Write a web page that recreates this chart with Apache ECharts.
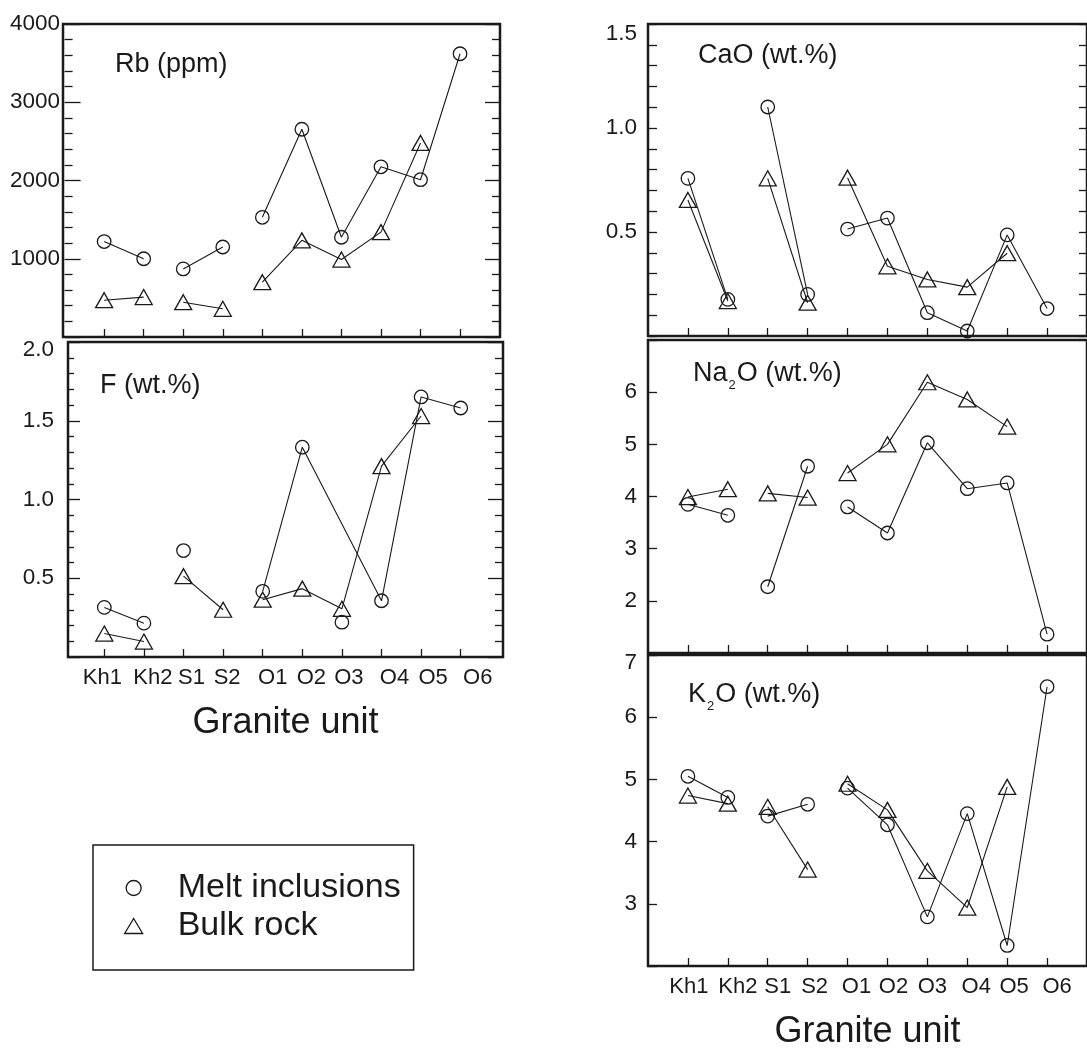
<!DOCTYPE html>
<html><head><meta charset="utf-8">
<script src="https://cdn.jsdelivr.net/npm/echarts@6/dist/echarts.min.js"></script>
<style>html,body{margin:0;padding:0;background:#fff}#c{width:1087px;height:1051px}</style>
</head><body><div id="c"></div>
<script>
// ---------- data ----------
const categories = ['Kh1','Kh2','S1','S2','O1','O2','O3','O4','O5','O6'];
const xTitle = 'Granite unit';
const seriesNames = ['Melt inclusions', 'Bulk rock'];

const rbMelt   = [1220, 1000, 870, 1150, 1530, 2655, 1275, 2175, 2010, 3620];
const rbBulk   = [470, 510, 445, 360, 700, 1235, 990, 1340, 2480, null];
const fMelt    = [0.315, 0.215, 0.676, null, 0.417, 1.332, 0.221, 0.357, 1.651, 1.581];
const fBulk    = [0.149, 0.098, 0.513, 0.300, 0.364, 0.434, 0.306, 1.212, 1.530, null];
const caoMelt  = [0.758, 0.176, 1.101, 0.200, 0.514, 0.567, 0.112, 0.024, 0.486, 0.132];
const caoBulk  = [0.654, 0.168, 0.758, 0.160, 0.761, 0.335, 0.272, 0.235, 0.398, null];
const na2oMelt = [3.85, 3.64, 2.27, 4.58, 3.80, 3.30, 5.03, 4.15, 4.26, 1.36];
const na2oBulk = [3.99, 4.14, 4.06, 3.98, 4.45, 5.00, 6.19, 5.86, 5.34, null];
const k2oMelt  = [5.05, 4.71, 4.41, 4.60, 4.86, 4.27, 2.79, 4.45, 2.33, 6.49];
const k2oBulk  = [4.74, 4.61, 4.56, 3.55, 4.93, 4.51, 3.53, 2.94, 4.88, null];

// which points are joined by lines (indices into the arrays above)
const rbMeltChains = [[0,1],[2,3],[4,5,6,7,8,9]];
const rbBulkChains = [[0,1],[2,3],[4,5,6,7,8]];
const fMeltChains  = [[0,1],[4,5,7,8,9]];
const fBulkChains  = [[0,1],[2,3],[4,5,6,7,8]];
const stdMeltChains = [[0,1],[2,3],[4,5,6,7,8,9]];
const stdBulkChains = [[0,1],[2,3],[4,5,6,7,8]];

// y tick labels
const rbTicks   = [1000, 2000, 3000, 4000];
const fTicks    = [0.5, 1.0, 1.5, 2.0];
const caoTicks  = [0.5, 1.0, 1.5];
const na2oTicks = [2, 3, 4, 5, 6];
const k2oTicks  = [3, 4, 5, 6, 7];

// ---------- layout / style ----------
const INK = '#1a1a1a';
const FONT = '"Liberation Sans", Arial, Helvetica, sans-serif';
const catPos = categories.map((c, i) => i + 1);
// horizontal nudges (px) of the category labels, as typeset in the original figure
const labelNudgeLeft  = [-2, 9, 8, 4, 10, 9, 7, 13, 12, 17];
const labelNudgeRight = [1, 10, 10, 7, 9, 6, 5, 9, 7, 10];

const panels = [
  { melt: rbMelt, bulk: rbBulk, mc: rbMeltChains, bc: rbBulkChains, ticks: rbTicks,
    grid: {left: 63, top: 24, width: 437, height: 313}, x: [-0.04, 11.01],
    y: [0, 4000, 1000], minor: 5, tl: [16, 8], tr: [15, 8], right: true, lm: 3, dec: 0, topShift: 0, xLabels: null },
  { melt: fMelt, bulk: fBulk, mc: fMeltChains, bc: fBulkChains, ticks: fTicks,
    grid: {left: 68, top: 342, width: 435, height: 315}, x: [0.083, 11.068],
    y: [0, 2.0, 0.5], minor: 5, tl: [12, 6], tr: [15, 8], right: true, lm: 14, dec: 1, topShift: 8, xLabels: labelNudgeLeft },
  { melt: caoMelt, bulk: caoBulk, mc: stdMeltChains, bc: stdBulkChains, ticks: caoTicks,
    grid: {left: 648, top: 24, width: 443, height: 312}, x: [0, 11],
    y: [0, 1.5, 0.5], minor: 5, tl: [9, 9], tr: [8, 8], right: true, lm: 11, dec: 1, topShift: 10, xLabels: null },
  { melt: na2oMelt, bulk: na2oBulk, mc: stdMeltChains, bc: stdBulkChains, ticks: na2oTicks,
    grid: {left: 648, top: 340, width: 443, height: 313}, x: [0, 11],
    y: [1, 7, 1], minor: 0, tl: [9, 0], tr: [0, 0], right: false, lm: 11, dec: 0, topShift: 0, xLabels: null },
  { melt: k2oMelt, bulk: k2oBulk, mc: stdMeltChains, bc: stdBulkChains, ticks: k2oTicks,
    grid: {left: 648, top: 655, width: 443, height: 316}, x: [0, 11],
    y: [2, 7, 1], minor: 0, tl: [9, 0], tr: [0, 0], right: false, lm: 11, dec: 0, topShift: 8, xLabels: labelNudgeRight }
];

const titles = [
  { text: 'Rb (ppm)', x: 115, y: 65 },
  { text: 'F (wt.%)', x: 100, y: 386 },
  { text: 'CaO (wt.%)', x: 698, y: 56 },
  { text: '{n|Na}{s|2}{n|O (wt.%)}', x: 693, y: 374 },
  { text: '{n|K}{s|2}{n|O (wt.%)}', x: 688, y: 695 }
];

const tickLine = { color: INK, width: 1.3 };
const grids = [], xAxes = [], yAxes = [], series = [];

panels.forEach((p, i) => {
  grids.push(Object.assign({ show: true, borderColor: INK, borderWidth: 2.5,
    backgroundColor: 'rgba(0,0,0,0)' }, p.grid));

  const catRich = {};
  (p.xLabels || []).forEach((s, k) => {
    catRich['c' + k] = { fontSize: 22, color: INK, fontFamily: FONT,
      padding: s >= 0 ? [0, 0, 0, 2 * s] : [0, -2 * s, 0, 0] };
  });
  xAxes.push({
    type: 'value', gridIndex: i, min: p.x[0], max: p.x[1],
    axisLine: { show: false }, splitLine: { show: false },
    axisTick: { show: true, inside: true, length: 8, customValues: catPos, lineStyle: tickLine },
    axisLabel: { show: !!p.xLabels, customValues: catPos, margin: 10,
      formatter: v => { const k = Math.round(v) - 1; return '{c' + k + '|' + categories[k] + '}'; },
      rich: catRich },
    name: p.xLabels ? xTitle : '', nameLocation: 'middle', nameGap: 66,
    nameTextStyle: { fontSize: 36, color: INK, fontFamily: FONT, verticalAlign: 'middle' }
  });

  const fmt = v => {
    const s = v.toFixed(p.dec);
    return (p.topShift && Math.abs(v - p.y[1]) < 1e-9) ? '{t|' + s + '}' : '{n|' + s + '}';
  };
  yAxes.push({
    type: 'value', gridIndex: i, position: 'left', min: p.y[0], max: p.y[1], interval: p.y[2],
    axisLine: { show: false }, splitLine: { show: false },
    axisTick: { show: true, inside: true, length: p.tl[0], lineStyle: tickLine },
    minorTick: { show: p.minor > 0, splitNumber: p.minor || 5, length: p.tl[1], lineStyle: tickLine },
    axisLabel: { customValues: p.ticks, margin: p.lm, formatter: fmt,
      rich: { n: { fontSize: 22.5, color: INK, fontFamily: FONT },
              t: { fontSize: 22.5, color: INK, fontFamily: FONT, padding: [2 * p.topShift, 0, 0, 0] } } }
  });
  yAxes.push({
    type: 'value', gridIndex: i, position: 'right', min: p.y[0], max: p.y[1], interval: p.y[2],
    axisLine: { show: false }, splitLine: { show: false }, axisLabel: { show: false },
    axisTick: { show: p.right, inside: true, length: p.tr[0], lineStyle: tickLine },
    minorTick: { show: p.right && p.minor > 0, splitNumber: p.minor || 5, length: p.tr[1], lineStyle: tickLine }
  });

  [[p.melt, p.mc, 0], [p.bulk, p.bc, 1]].forEach(([vals, chains, k]) => {
    chains.forEach(ch => {
      series.push({
        type: 'line', xAxisIndex: i, yAxisIndex: 2 * i, symbol: 'none', silent: true,
        lineStyle: { color: INK, width: 1.1 }, z: 2,
        data: ch.map(j => [j + 1, vals[j]])
      });
    });
    series.push({
      type: 'scatter', name: seriesNames[k], xAxisIndex: i, yAxisIndex: 2 * i,
      symbol: k === 0 ? 'circle' : 'triangle', symbolSize: k === 0 ? 13.5 : [17, 15],
      itemStyle: { color: 'rgba(0,0,0,0)', borderColor: INK, borderWidth: 1.3, opacity: 1 },
      z: 3, clip: false,
      data: vals.map((v, j) => v == null ? null : [j + 1, v]).filter(d => d)
    });
  });
});

const graphic = titles.map(t => ({
  type: 'text', x: t.x, y: t.y, silent: true,
  style: { text: t.text, fontSize: 27, fontFamily: FONT, fill: INK, verticalAlign: 'middle',
    rich: { n: { fontSize: 27, fontFamily: FONT, fill: INK },
            s: { fontSize: 13, fontFamily: FONT, fill: INK, padding: [22, 1, 0, 1] } } }
}));

const option = {
  animation: false,
  backgroundColor: '#fff',
  grid: grids, xAxis: xAxes, yAxis: yAxes, series: series, graphic: graphic,
  legend: {
    data: [{ name: seriesNames[0], icon: 'circle' }, { name: seriesNames[1], icon: 'triangle' }],
    orient: 'vertical', left: 93, top: 845, itemWidth: 18, itemHeight: 15, itemGap: 4,
    symbolKeepAspect: false,
    padding: [26, 13, 27, 31], borderColor: INK, borderWidth: 1.5, selectedMode: false,
    formatter: name => '{a|' + name + '}',
    textStyle: { fontSize: 34, lineHeight: 34, color: INK, fontFamily: FONT,
      rich: { a: { fontSize: 34, lineHeight: 34, color: INK, fontFamily: FONT, padding: [0, 0, 0, 30] } } },
    itemStyle: { color: 'rgba(0,0,0,0)', borderColor: INK, borderWidth: 1.3 }
  }
};

const chart = echarts.init(document.getElementById('c'), null, { renderer: 'canvas' });
chart.setOption(option);
</script>
</body></html>
